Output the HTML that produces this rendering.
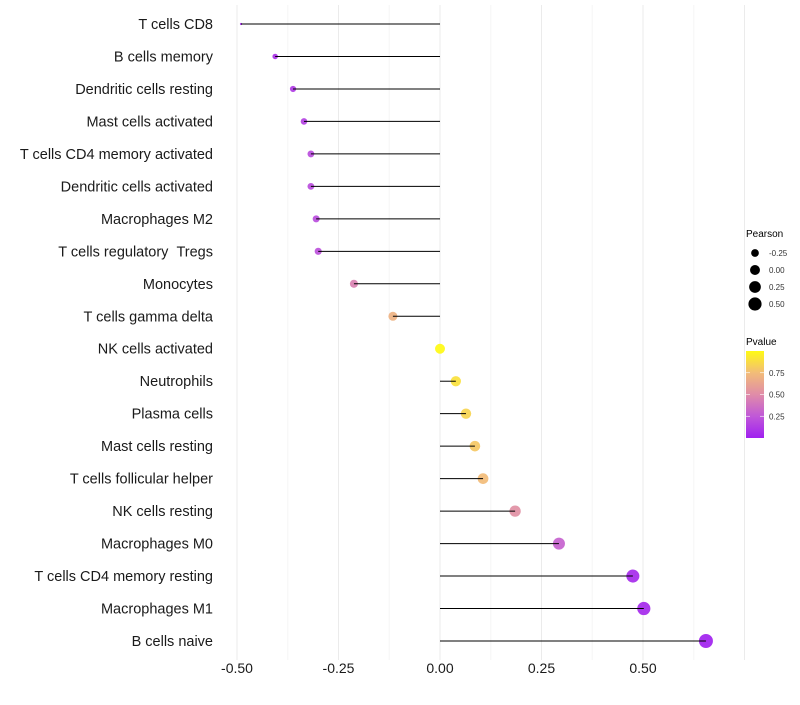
<!DOCTYPE html>
<html><head><meta charset="utf-8"><style>
body{margin:0;background:#fff;font-family:"Liberation Sans",sans-serif;}
</style></head><body>
<svg id="c" width="800" height="700" xmlns="http://www.w3.org/2000/svg"></svg>
<script>
const categories=["T cells CD8","B cells memory","Dendritic cells resting","Mast cells activated","T cells CD4 memory activated","Dendritic cells activated","Macrophages M2","T cells regulatory\u00a0\u00a0Tregs","Monocytes","T cells gamma delta","NK cells activated","Neutrophils","Plasma cells","Mast cells resting","T cells follicular helper","NK cells resting","Macrophages M0","T cells CD4 memory resting","Macrophages M1","B cells naive"];
const pearson=[-0.49,-0.406,-0.362,-0.335,-0.318,-0.318,-0.305,-0.30,-0.212,-0.116,0.0,0.039,0.064,0.086,0.106,0.185,0.293,0.475,0.502,0.655];
const pvalues=[0.03,0.08,0.12,0.15,0.2,0.2,0.2,0.22,0.45,0.7,1.0,0.9,0.85,0.8,0.75,0.52,0.3,0.05,0.04,0.01];
const xTicks=[-0.5,-0.25,0,0.25,0.5];
const xTickLabels=["-0.50","-0.25","0.00","0.25","0.50"];
const sizeLegendVals=[-0.25,0,0.25,0.5];
const sizeLegendLabels=["-0.25","0.00","0.25","0.50"];
const colorLegendVals=[0.25,0.5,0.75];

const svg=document.getElementById('c');
const NS="http://www.w3.org/2000/svg";
function mk(t,a,p){const e=document.createElementNS(NS,t);for(const k in a)e.setAttribute(k,a[k]);(p||svg).appendChild(e);return e;}
const xs=v=>440+v*406;
const ys=i=>24+i*(617/19);
const pmin=Math.min(...pearson),pmax=Math.max(...pearson);
function rs(v){const t=Math.max(0,Math.min(1,(v-pmin)/(pmax-pmin)));return (1+5*Math.sqrt(t))*7/6;}
const stops=[[0,[160,32,240]],[0.25,[192,88,216]],[0.5,[224,140,168]],[0.75,[242,188,120]],[1,[255,250,20]]];
function col(p){for(let i=1;i<stops.length;i++){if(p<=stops[i][0]){const a=stops[i-1],b=stops[i];const f=(p-a[0])/(b[0]-a[0]);return `rgb(${a[1].map((c,k)=>Math.round(c+(b[1][k]-c)*f)).join(',')})`;}}return 'rgb(255,250,20)';}

// grid
for(let k=-0.5;k<=0.76;k+=0.125){
  const major=Math.abs((k*4)-Math.round(k*4))<1e-6;
  const g=mk('line',{x1:xs(k),x2:xs(k),y1:5,y2:660,stroke:major?'#ebebeb':'#f5f5f5','stroke-width':1});
  
  
}
categories.forEach((c,i)=>{
  const y=ys(i);
  const pt=mk('circle',{cx:xs(pearson[i]),cy:y,r:rs(pearson[i]),fill:col(pvalues[i]),'fill-opacity':0.92});
  
  
  const ln=mk('line',{x1:xs(0),x2:xs(pearson[i]),y1:y,y2:y,stroke:'#000','stroke-width':1});
  
  
  const t=mk('text',{x:213,y:y+5,'text-anchor':'end','font-size':14.5,fill:'#1a1a1a'});
  t.textContent=c;
  
  
});
xTicks.forEach((v,i)=>{
  const t=mk('text',{x:xs(v),y:673,'text-anchor':'middle','font-size':14,fill:'#1a1a1a'});
  t.textContent=xTickLabels[i];
  
  
});
// size legend
const st=mk('text',{x:746,y:237,'font-size':10,fill:'#000'});st.textContent='Pearson';


sizeLegendVals.forEach((v,i)=>{
  const y=253+i*17;
  const c=mk('circle',{cx:755,cy:y,r:rs(v),fill:'#000'});
  
  
  const t=mk('text',{x:769,y:y+3,'font-size':8,fill:'#333'});t.textContent=sizeLegendLabels[i];
  
  
});
// color legend
const ct=mk('text',{x:746,y:345,'font-size':10,fill:'#000'});ct.textContent='Pvalue';


const defs=mk('defs',{});
const lg=mk('linearGradient',{id:'g',x1:0,y1:1,x2:0,y2:0},defs);
stops.forEach(s=>mk('stop',{offset:s[0],'stop-color':col(s[0])},lg));
const bar=mk('rect',{x:746,y:351,width:18,height:87,fill:'url(#g)'});


colorLegendVals.forEach(v=>{
  const y=438-v*87;
  mk('line',{x1:746,x2:750,y1:y,y2:y,stroke:'#fff','stroke-width':0.6});
  mk('line',{x1:760,x2:764,y1:y,y2:y,stroke:'#fff','stroke-width':0.6});
  const t=mk('text',{x:769,y:y+3,'font-size':8,fill:'#333'});t.textContent=v.toFixed(2);
  
  
});
</script>
</body></html>
